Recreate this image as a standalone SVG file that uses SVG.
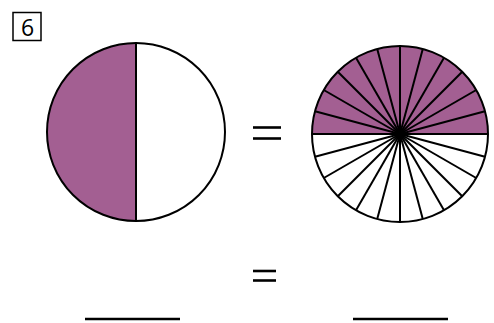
<svg xmlns="http://www.w3.org/2000/svg" width="494" height="323" viewBox="0 0 494 323">
<style>
.ln{stroke:#000;stroke-width:2;fill:none}
.sh{fill:#a35f92}
.eq{stroke:#000;stroke-width:2.6}
.t{font-family:"Open Sans","DejaVu Sans",sans-serif;font-size:23px;fill:#000}
</style>
<rect width="494" height="323" fill="#fff"/>
<g id="label">
<rect x="13" y="12.5" width="28" height="28" fill="none" stroke="#000" stroke-width="1.5"/>
<text class="t" x="27.5" y="36" text-anchor="middle">6</text>
</g>
<g id="left-circle">
<path class="sh" d="M136,43 A89,89 0 0 0 136,221 Z"/>
<circle class="ln" cx="136" cy="132" r="89"/>
<line class="ln" x1="136" y1="43" x2="136" y2="221"/>
</g>
<g id="right-circle">
<path class="sh" d="M312,134 A88,88 0 0 1 488,134 Z"/>
<g class="ln" transform="translate(400,134)">
<line x1="-88" y1="0" x2="88" y2="0"/>
<line x1="-88" y1="0" x2="88" y2="0" transform="rotate(15)"/>
<line x1="-88" y1="0" x2="88" y2="0" transform="rotate(30)"/>
<line x1="-88" y1="0" x2="88" y2="0" transform="rotate(45)"/>
<line x1="-88" y1="0" x2="88" y2="0" transform="rotate(60)"/>
<line x1="-88" y1="0" x2="88" y2="0" transform="rotate(75)"/>
<line x1="-88" y1="0" x2="88" y2="0" transform="rotate(90)"/>
<line x1="-88" y1="0" x2="88" y2="0" transform="rotate(105)"/>
<line x1="-88" y1="0" x2="88" y2="0" transform="rotate(120)"/>
<line x1="-88" y1="0" x2="88" y2="0" transform="rotate(135)"/>
<line x1="-88" y1="0" x2="88" y2="0" transform="rotate(150)"/>
<line x1="-88" y1="0" x2="88" y2="0" transform="rotate(165)"/>
</g>
<circle class="ln" cx="400" cy="134" r="88"/>
<circle cx="400" cy="134" r="5.5" fill="#000"/>
</g>
<g id="equals-top">
<line class="eq" x1="253" y1="127.5" x2="281" y2="127.5"/>
<line class="eq" x1="253" y1="138.5" x2="281" y2="138.5"/>
</g>
<g id="equals-bottom">
<line class="eq" x1="253" y1="271" x2="276" y2="271"/>
<line class="eq" x1="253" y1="280.5" x2="276" y2="280.5"/>
</g>
<g id="blanks">
<line class="eq" x1="85" y1="319" x2="180" y2="319"/>
<line class="eq" x1="353" y1="319" x2="448" y2="319"/>
</g>
</svg>
